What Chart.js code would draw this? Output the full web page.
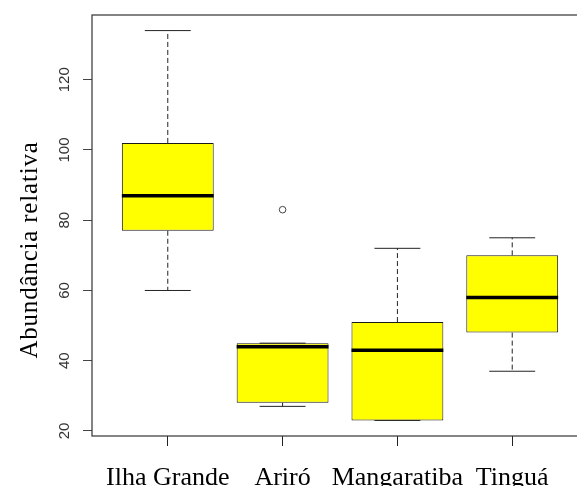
<!DOCTYPE html>
<html lang="pt-BR">
<head>
<meta charset="utf-8">
<title>Abundância relativa por localidade</title>
<script src="https://cdn.jsdelivr.net/npm/chart.js@4.4.1/dist/chart.umd.min.js"></script>
<style>
  html, body { margin: 0; padding: 0; background: #fff; overflow: hidden; }
  #wrap { width: 600px; height: 486px; }
</style>
</head>
<body>
<div id="wrap"><canvas id="chartAbundancia"></canvas></div>
<script>
// ─── Dados (resumo dos boxplots) ─────────────────────
const LOCAIS      = ['Ilha Grande', 'Ariró', 'Mangaratiba', 'Tinguá'];
const BIGODE_INF  = [60, 27, 23, 37];
const Q1          = [77, 28, 23, 48];
const MEDIANA     = [87, 44, 43, 58];
const Q3          = [102, 45, 51, 70];
const BIGODE_SUP  = [134, 45, 72, 75];
const OUTLIERS    = [[], [83], [], []];
const Y_TICKS     = [20, 40, 60, 80, 100, 120];
const TITULO_Y    = 'Abundância relativa';

// faixa dos eixos como no R: dados + 4% de cada lado
const todos  = [...BIGODE_INF, ...BIGODE_SUP, ...OUTLIERS.flat()];
const yLo    = Math.min(...todos), yHi = Math.max(...todos);
const Y_MIN  = yLo - (yHi - yLo) * 0.04;
const Y_MAX  = yHi + (yHi - yLo) * 0.04;
const X_MIN  = 0.5 - 4 * 0.04;
const X_MAX  = LOCAIS.length + 0.5 + 4 * 0.04;

const SERIF = "'Liberation Serif', 'Times New Roman', serif";
const SANS  = "'Liberation Sans', Arial, sans-serif";

function linha(ctx, x1, y1, x2, y2) {
  ctx.beginPath();
  ctx.moveTo(x1, y1);
  ctx.lineTo(x2, y2);
  ctx.stroke();
}

// ─── Bigodes, medianas, moldura e textos do eixo y ───
const boxplotExtras = {
  id: 'boxplotExtras',
  beforeDatasetsDraw(chart) {
    const { ctx, scales: { x, y } } = chart;
    const meta = chart.getDatasetMeta(0);
    ctx.save();
    ctx.strokeStyle = '#222';
    ctx.lineWidth = 1;
    LOCAIS.forEach((_, i) => {
      const cx = x.getPixelForValue(i + 1);
      const cap = meta.data[i].width / 4;
      ctx.setLineDash([5, 3]);
      linha(ctx, cx, y.getPixelForValue(Q3[i]), cx, y.getPixelForValue(BIGODE_SUP[i]));
      linha(ctx, cx, y.getPixelForValue(Q1[i]), cx, y.getPixelForValue(BIGODE_INF[i]));
      ctx.setLineDash([]);
      linha(ctx, cx - cap, y.getPixelForValue(BIGODE_SUP[i]), cx + cap, y.getPixelForValue(BIGODE_SUP[i]));
      linha(ctx, cx - cap, y.getPixelForValue(BIGODE_INF[i]), cx + cap, y.getPixelForValue(BIGODE_INF[i]));
    });
    ctx.restore();
  },
  afterDatasetsDraw(chart) {
    const { ctx, scales: { x, y } } = chart;
    const meta = chart.getDatasetMeta(0);
    ctx.save();
    ctx.strokeStyle = '#000';
    ctx.lineWidth = 3.5;
    LOCAIS.forEach((_, i) => {
      const cx = x.getPixelForValue(i + 1);
      const half = meta.data[i].width / 2;
      const ym = y.getPixelForValue(MEDIANA[i]);
      linha(ctx, cx - half, ym, cx + half, ym);
    });
    ctx.restore();
  },
  afterDraw(chart) {
    const { ctx, chartArea: a, scales: { y } } = chart;
    ctx.save();
    ctx.strokeStyle = '#333';
    ctx.lineWidth = 1.2;
    ctx.strokeRect(a.left, a.top, a.right - a.left, a.bottom - a.top);

    // rótulos do eixo y girados 90°
    ctx.fillStyle = '#333';
    ctx.font = `15px ${SANS}`;
    ctx.textAlign = 'center';
    ctx.textBaseline = 'middle';
    Y_TICKS.forEach(v => {
      ctx.save();
      ctx.translate(65, y.getPixelForValue(v));
      ctx.rotate(-Math.PI / 2);
      ctx.fillText(String(v), 0, 0);
      ctx.restore();
    });

    // título do eixo y
    ctx.save();
    ctx.fillStyle = '#000';
    ctx.font = `25px ${SERIF}`;
    ctx.letterSpacing = '0.8px';
    ctx.textBaseline = 'alphabetic';
    ctx.translate(36.5, 250);
    ctx.rotate(-Math.PI / 2);
    ctx.fillText(TITULO_Y, 0, 0);
    ctx.restore();
    ctx.restore();
  },
};

const ctx = document.getElementById('chartAbundancia').getContext('2d');

new Chart(ctx, {
  type: 'bar',
  data: {
    datasets: [
      {
        type: 'bar',
        data: LOCAIS.map((_, i) => ({ x: i + 1, y: [Q1[i], Q3[i]] })),
        backgroundColor: '#ffff00',
        borderColor: '#1a1a1a',
        borderWidth: 1,
        borderSkipped: false,
        categoryPercentage: 1,
        barPercentage: 0.8,
      },
      {
        type: 'scatter',
        data: OUTLIERS.flatMap((vals, i) => vals.map(v => ({ x: i + 1, y: v }))),
        pointRadius: 3.3,
        pointBorderWidth: 1,
        pointBorderColor: '#444',
        pointBackgroundColor: '#fff',
      },
    ],
  },
  options: {
    responsive: true,
    maintainAspectRatio: false,
    animation: false,
    layout: { padding: { top: 15, right: 12, left: 0, bottom: 0 } },
    plugins: {
      legend: { display: false },
      tooltip: { enabled: false },
    },
    scales: {
      x: {
        type: 'linear',
        min: X_MIN,
        max: X_MAX,
        offset: false,
        afterBuildTicks: s => { s.ticks = LOCAIS.map((_, i) => ({ value: i + 1 })); },
        afterFit: s => { s.height = 50; },
        grid: { drawOnChartArea: false, drawTicks: true, tickLength: 10, color: '#222', offset: false },
        border: { display: false },
        ticks: {
          callback: v => LOCAIS[v - 1],
          font: { family: SERIF, size: 26 },
          color: '#000',
          maxRotation: 0,
          minRotation: 0,
          autoSkip: false,
          padding: 17,
        },
      },
      y: {
        type: 'linear',
        min: Y_MIN,
        max: Y_MAX,
        afterBuildTicks: s => { s.ticks = Y_TICKS.map(v => ({ value: v })); },
        afterFit: s => { s.width = 92; },
        grid: { drawOnChartArea: false, drawTicks: true, tickLength: 9, color: '#444' },
        border: { display: false },
        ticks: { display: false },
      },
    },
  },
  plugins: [boxplotExtras],
});
</script>
</body>
</html>
